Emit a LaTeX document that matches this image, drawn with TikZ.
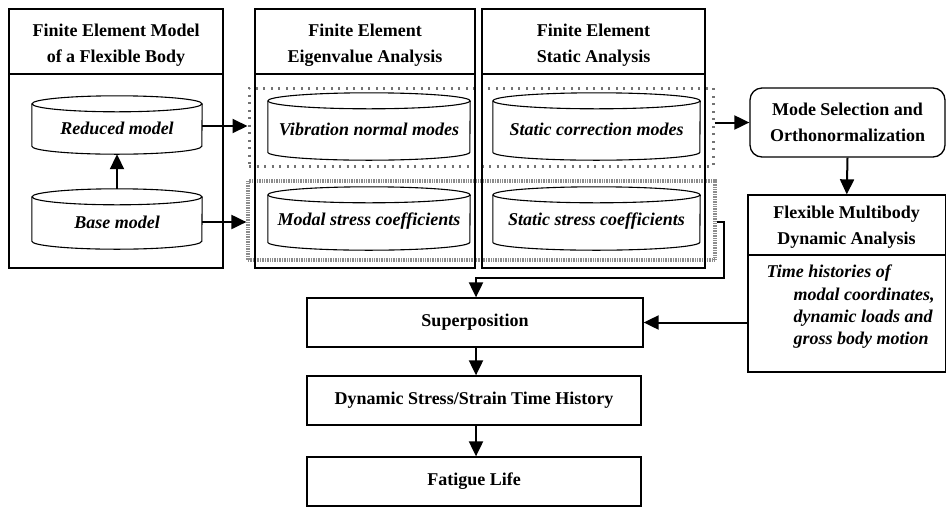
\documentclass[tikz,border=0pt]{standalone}
\usepackage{fontspec}
\setmainfont{Liberation Serif}
\usetikzlibrary{arrows.meta,fit}

\tikzset{
  hd/.style={font=\bfseries\fontsize{18}{26}\selectfont, align=center},
  it/.style={font=\bfseries\itshape\fontsize{18}{22.5}\selectfont},
  boxline/.style={draw=black, line width=1.3pt, inner sep=0pt},
  cylline/.style={draw=black, line width=1.1pt},
  cylbox/.style={inner sep=0pt},
  arr/.style={line width=2pt, -{Triangle[length=15pt,width=14pt]}},
  modezone/.style={draw=black!55, line width=3pt, dash pattern=on 2pt off 5.5pt, inner sep=0pt},
  stresszone/.style={draw=black!45, line width=3.2pt, dash pattern=on 1pt off 0.7pt, inner sep=0pt},
}

\begin{document}
\begin{tikzpicture}[x=1pt,y=-1pt]
\useasboundingbox (0,0) rectangle (947,507);

% shaded zones grouping the mode sets and the stress coefficients
\node[modezone, fit={(249,88) (713,166)}] (modes) {};
\node[stresszone, fit={(248,181) (715,260)}] (stress) {};

% three finite element panels
\node[boxline, fit={(9,9) (223,268)}] (fem) {};
\draw[line width=1.1pt] (9,74) -- (223,74);
\node[hd] (femt) at (116,45) {Finite Element Model\\of a Flexible Body};

\node[boxline, fit={(255,9) (475,268)}] (eig) {};
\draw[line width=1.1pt] (255,74) -- (475,74);
\node[hd] (eigt) at (365,45) {Finite Element\\Eigenvalue Analysis};

\node[boxline, fit={(482,9) (705,268)}] (sta) {};
\draw[line width=1.1pt] (482,74) -- (705,74);
\node[hd] (stat) at (593.5,45) {Finite Element\\Static Analysis};

% cylinders (data sets)
\node[cylbox, fit={(32,96) (202,154)}] (red) {};
\node[it] (redt) at ([yshift=-3pt]red.center) {Reduced model};
\node[cylbox, fit={(32,189) (202,249)}] (base) {};
\node[it] (baset) at ([yshift=-3pt]base.center) {Base model};
\node[cylbox, fit={(268,93) (470,160)}] (vib) {};
\node[it] (vibt) at ([yshift=-3pt]vib.center) {Vibration normal modes};
\node[cylbox, fit={(268,187) (470,250)}] (msc) {};
\node[it] (msct) at ([yshift=-3pt]msc.center) {Modal stress coefficients};
\node[cylbox, fit={(493,93) (700,160)}] (scm) {};
\node[it] (scmt) at ([yshift=-3pt]scm.center) {Static correction modes};
\node[cylbox, fit={(493,187) (700,250)}] (ssc) {};
\node[it] (ssct) at ([yshift=-3pt]ssc.center) {Static stress coefficients};

\foreach \cn/\crx in {red/85, base/85, vib/101, msc/101, scm/103.5, ssc/103.5}{
  \draw[cylline] ([yshift=-8pt]\cn.north) ellipse [x radius=\crx pt, y radius=8pt];
  \draw[cylline] ([yshift=-8pt]\cn.north west) -- ([yshift=8pt]\cn.south west)
    arc[start angle=180, end angle=360, x radius=\crx pt, y radius=8pt]
    -- ([yshift=-8pt]\cn.north east);
}

% right-hand column
\node[boxline, rounded corners=12pt, fit={(750,88) (945,157)}] (mode) {};
\node[hd] (modet) at (mode.center) {Mode Selection and\\Orthonormalization};

\node[boxline, fit={(748,195) (945.5,372)}] (mbd) {};
\draw[line width=1.1pt] (748,255) -- (945.5,255);
\node[hd] (mbdt) at (846.5,227) {Flexible Multibody\\Dynamic Analysis};
\node[it, anchor=west] (th1) at (763,273) {Time histories of};
\node[it, anchor=west] (th2) at (790,296) {modal coordinates,};
\node[it, anchor=west] (th3) at (790,318) {dynamic loads and};
\node[it, anchor=west] (th4) at (790,340) {gross body motion};

% result chain
\node[boxline, fit={(307,298) (643,347)}] (sup) {};
\node[hd] (supt) at (sup.center) {Superposition};
\node[boxline, fit={(307,376) (641,425)}] (dyn) {};
\node[hd] (dynt) at (dyn.center) {Dynamic Stress/Strain Time History};
\node[boxline, fit={(307,457) (641,506)}] (fat) {};
\node[hd] (fatt) at (fat.center) {Fatigue Life};

% connectors
\coordinate (xa) at (476,0);
\coordinate (xr) at (724,0);
\draw[arr] (red.east |- 0,126) -- (modes.west |- 0,126);
\draw[arr] (base.east |- 0,222) -- (stress.west |- 0,222);
\draw[arr] (red.north |- base.north) -- (red.south);
\draw[arr] (modes.east |- mode.west) -- (mode.west);
\draw[arr] (mode.south) -- (mbd.north);
\draw[line width=1.8pt] (stress.east |- 0,222) -- (xr |- 0,222) -- (xr |- 0,278) -- (xa |- 0,278);
\draw[arr] (xa |- 0,277.1) -- (xa |- sup.north);
\draw[arr] (mbd.west |- sup.east) -- (sup.east);
\draw[arr] (xa |- sup.south) -- (xa |- dyn.north);
\draw[arr] (xa |- dyn.south) -- (xa |- fat.north);
\end{tikzpicture}
\end{document}
